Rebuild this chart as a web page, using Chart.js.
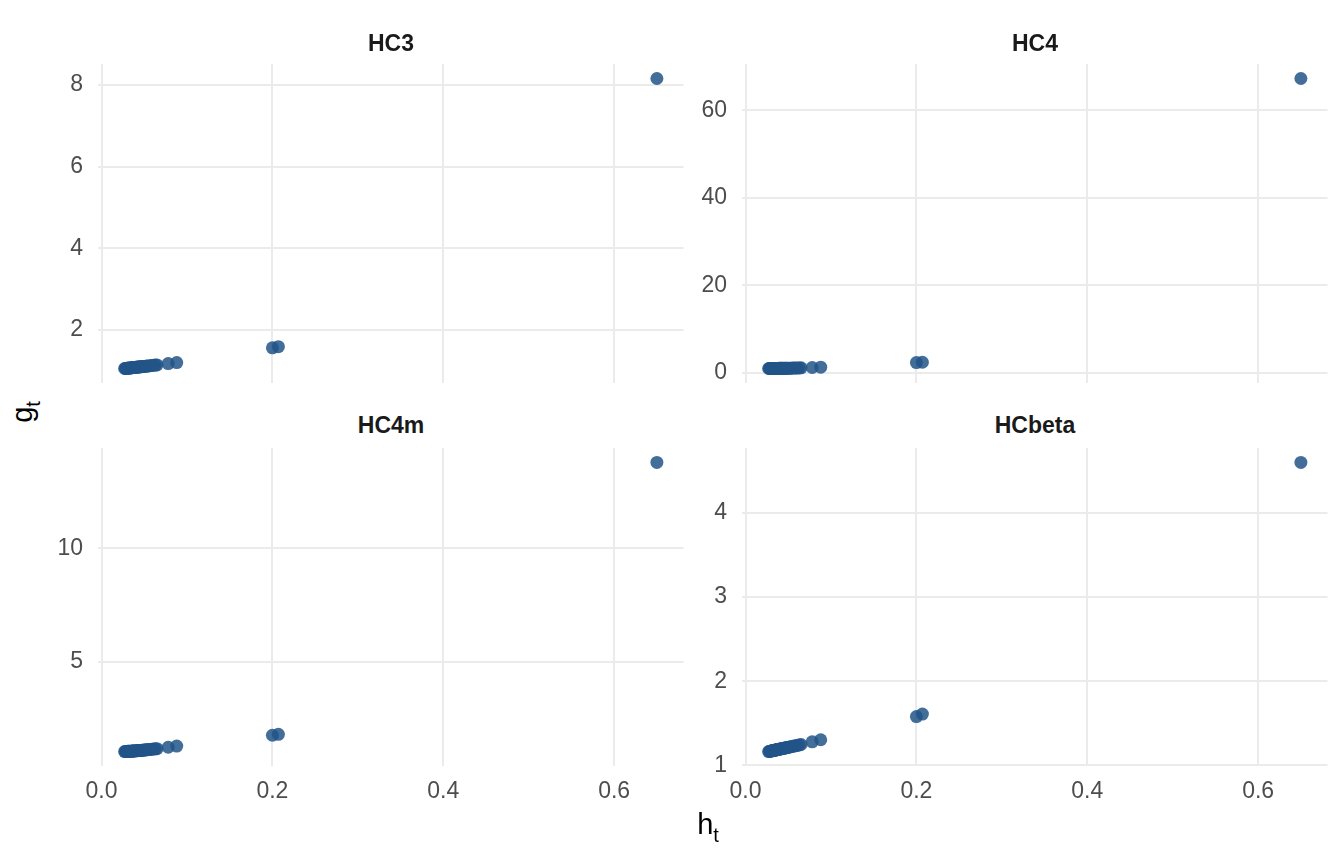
<!DOCTYPE html>
<html>
<head>
<meta charset="utf-8">
<script src="https://cdn.jsdelivr.net/npm/chart.js@4/dist/chart.umd.min.js"></script>
<style>
  html, body { margin:0; padding:0; background:#fff; }
  body { width:1344px; height:864px; position:relative; overflow:hidden; font-family:"Liberation Sans", Arial, sans-serif; }
  canvas { position:absolute; }
  .strip { position:absolute; font-weight:bold; font-size:23px; color:#1A1A1A; transform:translate(-50%,-50%); white-space:nowrap; line-height:1; }
  .axt { position:absolute; font-size:29px; color:#000; line-height:1; white-space:nowrap; }
  .axt span { font-size:20px; position:relative; top:8px; }
</style>
</head>
<body>
<canvas id="c1" width="690" height="339" style="left:0px;top:54px"></canvas>
<canvas id="c2" width="644" height="339" style="left:690px;top:54px"></canvas>
<canvas id="c3" width="690" height="388" style="left:0px;top:438px"></canvas>
<canvas id="c4" width="644" height="388" style="left:690px;top:438px"></canvas>
<div class="strip" style="left:391px;top:43px">HC3</div>
<div class="strip" style="left:1035px;top:43px">HC4</div>
<div class="strip" style="left:391px;top:425px">HC4m</div>
<div class="strip" style="left:1035px;top:425px">HCbeta</div>
<div class="axt" id="xt" style="left:708px;top:810px;transform:translateX(-50%)">h<span>t</span></div>
<div class="axt" id="yt" style="left:22px;top:412px;transform:translate(-50%,-50%) rotate(-90deg)">g<span>t</span></div>
<script>
// hat values (x) shared by all panels
const hat = [0.027,0.028,0.029,0.030,0.031,0.031,0.032,0.033,0.034,0.035,0.036,0.036,0.037,0.038,0.039,0.040,0.041,0.042,0.043,0.044,0.045,0.046,0.047,0.048,0.049,0.050,0.052,0.053,0.055,0.057,0.059,0.061,0.063,0.065,0.078,0.088,0.200,0.207,0.650];
const gHC3 = [1.056,1.058,1.060,1.063,1.065,1.065,1.067,1.069,1.071,1.074,1.076,1.076,1.078,1.080,1.083,1.085,1.087,1.090,1.092,1.094,1.097,1.099,1.101,1.104,1.106,1.108,1.113,1.116,1.120,1.125,1.130,1.135,1.140,1.144,1.176,1.202,1.563,1.590,8.16];
const gHC4 = [1.020,1.022,1.024,1.026,1.028,1.028,1.030,1.033,1.035,1.038,1.040,1.040,1.043,1.046,1.049,1.052,1.055,1.058,1.062,1.065,1.069,1.072,1.076,1.080,1.084,1.088,1.097,1.101,1.111,1.121,1.131,1.142,1.153,1.165,1.25,1.32,2.38,2.45,67.3];
const gHC4m = [1.030,1.032,1.034,1.036,1.038,1.038,1.040,1.043,1.045,1.048,1.050,1.050,1.053,1.056,1.059,1.062,1.065,1.068,1.071,1.074,1.078,1.081,1.085,1.088,1.092,1.096,1.104,1.108,1.116,1.124,1.133,1.141,1.150,1.159,1.22,1.27,1.75,1.79,13.8];
const gHCbeta = [1.165,1.167,1.169,1.172,1.174,1.174,1.176,1.178,1.180,1.183,1.185,1.185,1.187,1.189,1.191,1.194,1.196,1.198,1.200,1.202,1.205,1.207,1.209,1.211,1.213,1.216,1.220,1.222,1.227,1.231,1.235,1.240,1.244,1.249,1.28,1.305,1.58,1.61,4.60];
// tick values
const xTicks = [0, 0.2, 0.4, 0.6];
const yTicksHC3 = [2, 4, 6, 8];
const yTicksHC4 = [0, 20, 40, 60];
const yTicksHC4m = [5, 10];
const yTicksHCbeta = [1, 2, 3, 4];

function expand(arr) {
  const lo = Math.min(...arr), hi = Math.max(...arr), d = hi - lo;
  return [lo - 0.05 * d, hi + 0.05 * d];
}
const xr = expand(hat);
const FONT = "'Liberation Sans', Arial, sans-serif";

function zeroPad(s) { s.paddingTop = 0; s.paddingBottom = 0; s.paddingLeft = 0; s.paddingRight = 0; }

function panel(id, ys, yTicks, showX, yW) {
  const yr = expand(ys);
  new Chart(document.getElementById(id), {
    type: 'scatter',
    data: { datasets: [{
      data: hat.map((h, i) => ({ x: h, y: ys[i] })),
      backgroundColor: 'rgba(34,85,136,0.85)',
      borderWidth: 0,
      pointRadius: 6.5,
      pointHoverRadius: 6.5
    }]},
    options: {
      responsive: false,
      animation: false,
      devicePixelRatio: 1,
      layout: { padding: { top: 10, right: 6, left: 0, bottom: 0 } },
      plugins: { legend: { display: false }, tooltip: { enabled: false } },
      scales: {
        x: {
          type: 'linear', min: xr[0], max: xr[1],
          afterBuildTicks: s => { s.ticks = xTicks.map(v => ({ value: v })); },
          afterFit: s => { s.height = showX ? 60 : 10; zeroPad(s); },
          grid: { color: '#EBEBEB', lineWidth: 2, drawTicks: false },
          border: { display: false },
          ticks: { display: showX, padding: 12, color: '#4D4D4D', font: { family: FONT, size: 23 },
                   callback: v => v.toFixed(1), maxRotation: 0 }
        },
        y: {
          type: 'linear', min: yr[0], max: yr[1],
          afterBuildTicks: s => { s.ticks = yTicks.map(v => ({ value: v })); },
          afterFit: s => { s.width = yW; zeroPad(s); },
          grid: { color: '#EBEBEB', lineWidth: 2, drawTicks: false },
          border: { display: false },
          ticks: { padding: 15, color: '#4D4D4D', font: { family: FONT, size: 23 },
                   callback: v => String(v) }
        }
      }
    }
  });
}
panel('c1', gHC3, yTicksHC3, false, 98);
panel('c2', gHC4, yTicksHC4, false, 52);
panel('c3', gHC4m, yTicksHC4m, true, 98);
panel('c4', gHCbeta, yTicksHCbeta, true, 52);
</script>
</body>
</html>
